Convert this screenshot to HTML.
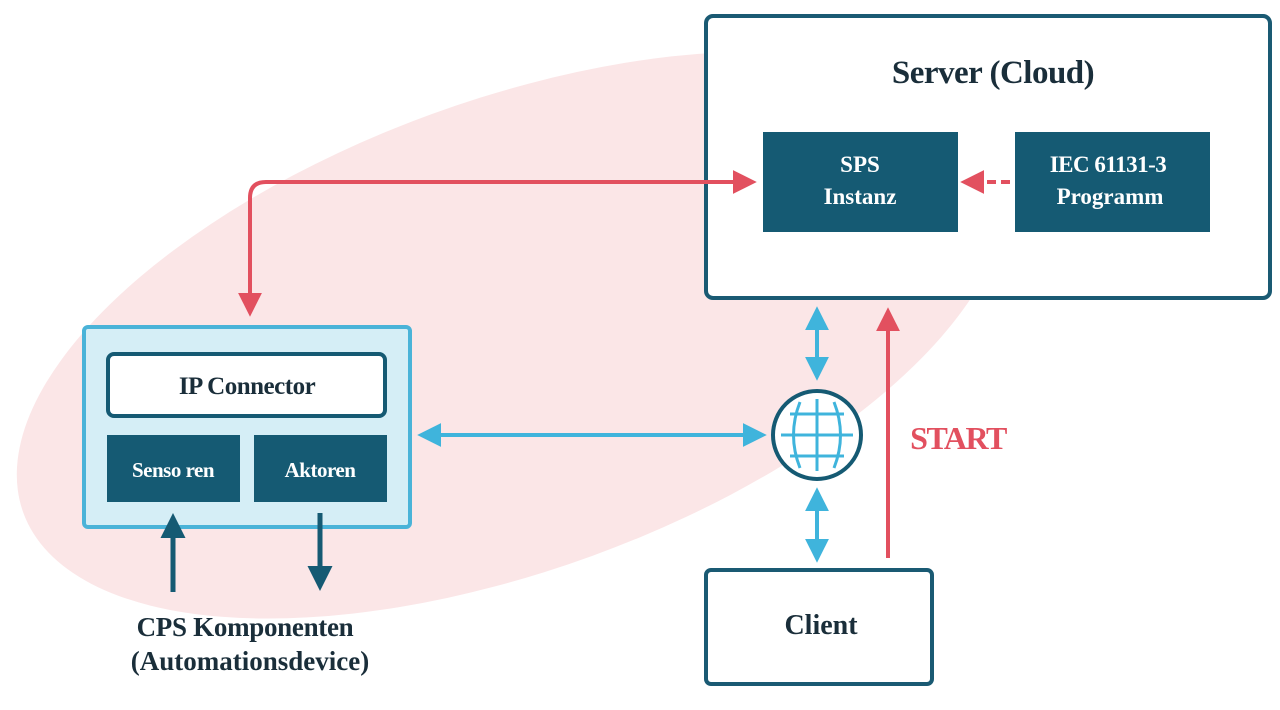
<!DOCTYPE html>
<html><head><meta charset="utf-8"><style>
html,body{margin:0;padding:0;background:#fff;}
svg{display:block}
text{font-family:"Liberation Serif",serif;font-weight:bold;}
</style></head><body>
<svg width="1280" height="710" viewBox="0 0 1280 710" xmlns="http://www.w3.org/2000/svg">
<defs>
<marker id="rh" viewBox="0 0 10 10" refX="8" refY="5" markerWidth="6" markerHeight="6" orient="auto-start-reverse"><path d="M0,0 L10,5 L0,10 z" fill="#e2505f"/></marker>
<marker id="bh" viewBox="0 0 10 10" refX="8" refY="5" markerWidth="6" markerHeight="6" orient="auto-start-reverse"><path d="M0,0 L10,5 L0,10 z" fill="#3fb4dc"/></marker>
<marker id="dh" viewBox="0 0 10 10" refX="8" refY="5" markerWidth="5" markerHeight="5" orient="auto-start-reverse"><path d="M0,0 L10,5 L0,10 z" fill="#155a73"/></marker>
</defs>
<ellipse cx="512" cy="335" rx="520" ry="235" transform="rotate(-20 512 335)" fill="#fbe6e7"/>
<!-- server -->
<rect x="706" y="16" width="564" height="282" rx="7" fill="#fff" stroke="#1a5a73" stroke-width="4"/>
<text x="993" y="83" font-size="33" text-anchor="middle" fill="#1a2e3a" letter-spacing="-0.5">Server (Cloud)</text>
<rect x="763" y="132" width="195" height="100" fill="#155a73"/>
<text x="860" y="172" font-size="23" text-anchor="middle" fill="#fff">SPS</text>
<text x="860" y="204" font-size="23" text-anchor="middle" fill="#fff">Instanz</text>
<rect x="1015" y="132" width="195" height="100" fill="#155a73"/>
<text x="1108" y="172" font-size="23" text-anchor="middle" fill="#fff" letter-spacing="-0.5">IEC 61131-3</text>
<text x="1110" y="204" font-size="23" text-anchor="middle" fill="#fff">Programm</text>
<line x1="1010" y1="182" x2="965" y2="182" stroke="#e2505f" stroke-width="4" stroke-dasharray="9,5" marker-end="url(#rh)"/>
<path d="M250,312 L250,198 Q250,182 266,182 L752,182" fill="none" stroke="#e2505f" stroke-width="4" marker-start="url(#rh)" marker-end="url(#rh)"/>
<!-- left box -->
<rect x="84" y="327" width="326" height="200" rx="4" fill="#d5eef6" stroke="#4ab3d8" stroke-width="4"/>
<rect x="108" y="354" width="277" height="62" rx="6" fill="#fff" stroke="#155a73" stroke-width="4"/>
<text x="247" y="394" font-size="25" text-anchor="middle" fill="#1a2e3a" letter-spacing="-0.5">IP Connector</text>
<rect x="107" y="435" width="133" height="67" fill="#155a73"/>
<text x="173" y="477" font-size="21" text-anchor="middle" fill="#fff" letter-spacing="-0.5">Senso ren</text>
<rect x="254" y="435" width="133" height="67" fill="#155a73"/>
<text x="320" y="477" font-size="21" text-anchor="middle" fill="#fff" letter-spacing="-0.5">Aktoren</text>
<line x1="173" y1="592" x2="173" y2="518" stroke="#155a73" stroke-width="5" marker-end="url(#dh)"/>
<line x1="320" y1="513" x2="320" y2="586" stroke="#155a73" stroke-width="5" marker-end="url(#dh)"/>
<text x="245" y="636" font-size="27" text-anchor="middle" fill="#1a2e3a" letter-spacing="-0.3">CPS Komponenten</text>
<text x="250" y="670" font-size="27" text-anchor="middle" fill="#1a2e3a">(Automationsdevice)</text>
<!-- connectors -->
<line x1="422" y1="435" x2="762" y2="435" stroke="#3fb4dc" stroke-width="4" marker-start="url(#bh)" marker-end="url(#bh)"/>
<line x1="817" y1="311" x2="817" y2="376" stroke="#3fb4dc" stroke-width="4" marker-start="url(#bh)" marker-end="url(#bh)"/>
<line x1="817" y1="492" x2="817" y2="558" stroke="#3fb4dc" stroke-width="4" marker-start="url(#bh)" marker-end="url(#bh)"/>
<line x1="888" y1="558" x2="888" y2="312" stroke="#e2505f" stroke-width="4" marker-end="url(#rh)"/>
<text x="958" y="449" font-size="32" text-anchor="middle" fill="#e2505f" letter-spacing="-1.5">START</text>
<!-- globe -->
<circle cx="817" cy="435" r="44" fill="#fff" stroke="#155a73" stroke-width="4"/>
<g fill="none" stroke="#3fb4dc" stroke-width="3">
<line x1="781" y1="435" x2="853" y2="435"/>
<line x1="817" y1="399" x2="817" y2="471"/>
<line x1="790" y1="414" x2="844" y2="414"/>
<line x1="790" y1="456" x2="844" y2="456"/>
<path d="M800,402 Q787,435 800,468"/>
<path d="M834,402 Q847,435 834,468"/>
</g>
<!-- client -->
<rect x="706" y="570" width="226" height="114" rx="5" fill="#fff" stroke="#1a5a73" stroke-width="4"/>
<text x="821" y="634" font-size="28" text-anchor="middle" fill="#1a2e3a">Client</text>
</svg>
</body></html>
